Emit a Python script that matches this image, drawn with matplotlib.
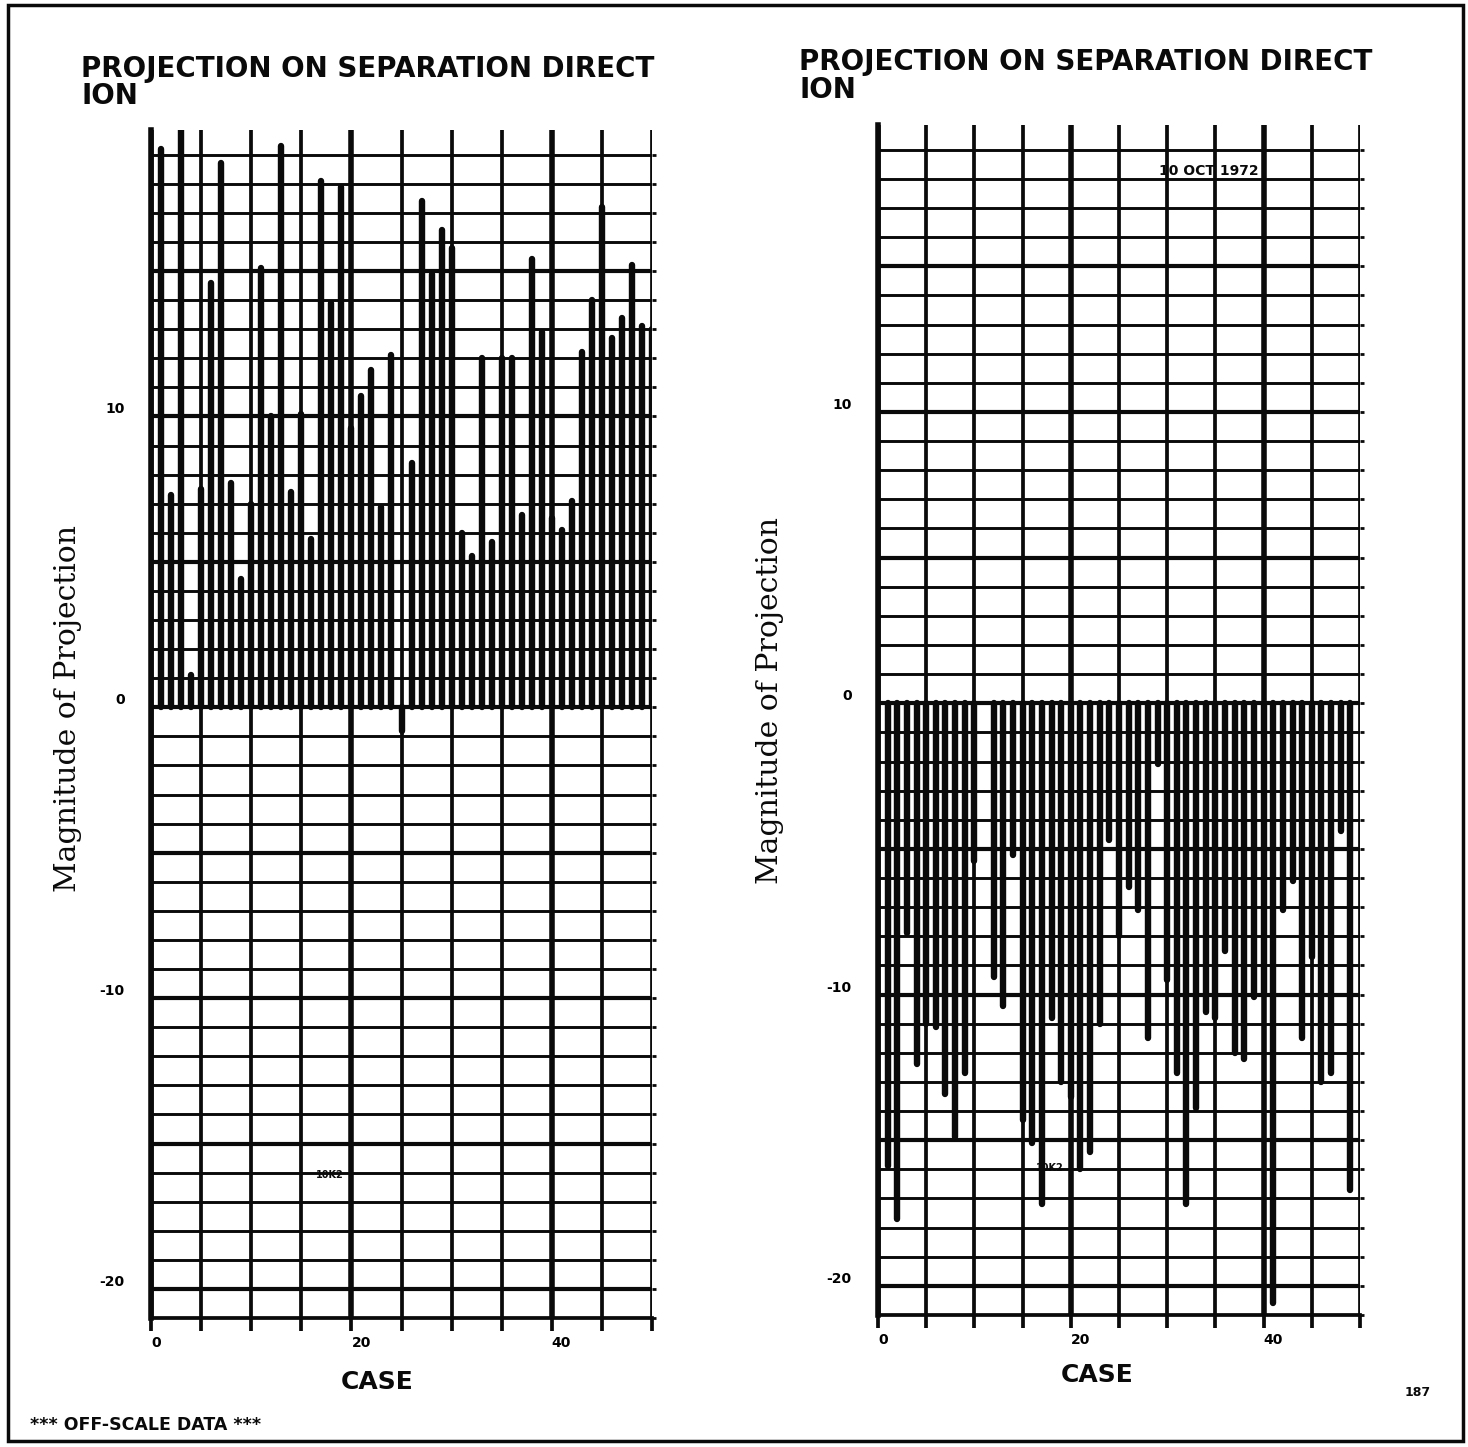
import matplotlib
matplotlib.use('Agg')
import matplotlib.pyplot as plt
from matplotlib.patches import Rectangle

# ---------------- data ----------------
cases_left = list(range(1, 51))
proj_left = [19.2, 7.3, 22.0, 1.1, 7.5, 14.6, 18.7, 7.7, 4.4, 7.0,
             15.1, 10.0, 19.3, 7.4, 10.1, 5.8, 18.1, 13.9, 17.9, 9.6,
             10.7, 11.6, 6.9, 12.1, -0.8, 8.4, 17.4, 14.9, 16.4, 15.8,
             6.0, 5.2, 12.0, 5.7, 12.0, 12.0, 6.6, 15.4, 12.9, 6.5,
             6.1, 7.1, 12.2, 14.0, 17.2, 12.7, 13.4, 15.2, 13.1, 13.0]

cases_right = list(range(1, 50))
proj_right = [-15.9, -17.7, -7.9, -12.4, -11.0, -11.1, -13.4, -14.9, -12.7, -5.4,
              0.0, -9.4, -10.4, -5.2, -14.3, -15.1, -17.2, -10.8, -13.0, -13.5,
              -16.0, -15.4, -11.0, -4.7, -8.0, -6.3, -7.1, -11.5, -2.1, -9.5,
              -12.7, -17.2, -13.9, -10.6, -10.8, -8.5, -12.0, -12.2, -10.1, -10.0,
              -20.6, -7.1, -6.1, -11.5, -8.7, -13.0, -12.7, -4.4, -16.7]

xtick_values = [0, 5, 10, 15, 20, 25, 30, 35, 40, 45, 50]
xtick_labels = ['0', '', '', '', '20', '', '', '', '40', '', '']
ytick_values = list(range(-21, 20))
ytick_named = {-20: '-20', -10: '-10', 0: '0', 10: '10'}

title_line1 = 'PROJECTION ON SEPARATION DIRECT'
title_line2 = 'ION'
ylabel_text = 'Magnitude of Projection'
xlabel_text = 'CASE'

W, H = 1468, 1447
DPI = 100
fig = plt.figure(figsize=(W / DPI, H / DPI), dpi=DPI)
fig.patch.set_facecolor('white')

INK = '#0a0a0a'


def fx(px):
    return px / W


def fy(py):
    return 1 - py / H


def draw_panel(rect, cases, values):
    ax = fig.add_axes(rect)
    ax.set_xlim(0, 50)
    ax.set_ylim(-21, 19.85)
    ax.set_facecolor('white')

    # grid
    ax.set_xticks(xtick_values)
    ax.set_xticklabels(xtick_labels)
    ax.set_yticks(ytick_values)
    ax.set_yticklabels([ytick_named.get(v, '') for v in ytick_values])
    ax.grid(True, axis='both', color=INK, linewidth=2.0, zorder=1)
    for v, gl in zip(ax.get_xticks(), ax.xaxis.get_gridlines()):
        gl.set_linewidth(4.0 if v in (0, 20, 40) else 2.7)
    for v, gl in zip(ax.get_yticks(), ax.yaxis.get_gridlines()):
        gl.set_linewidth(3.0 if int(round(v)) % 5 == 0 else 2.1)

    ax.tick_params(axis='x', direction='out', length=9, width=2.7,
                   color=INK, labelsize=10, pad=4)
    ax.tick_params(axis='y', left=False, right=True, direction='out',
                   length=3, width=2.0, color=INK, labelsize=10, pad=16)
    for lab in ax.get_xticklabels():
        lab.set_fontweight('bold')
        lab.set_ha('left')
    for lab in ax.get_yticklabels():
        lab.set_fontweight('bold')
        lab.set_va('bottom')

    for s in ('top', 'right'):
        ax.spines[s].set_visible(False)
    ax.spines['left'].set_linewidth(4.0)
    ax.spines['bottom'].set_linewidth(2.7)
    ax.spines['left'].set_color(INK)
    ax.spines['bottom'].set_color(INK)

    # bars (stems)
    lc = ax.vlines(cases, 0, values, colors=INK, linewidth=4.6, zorder=3)
    lc.set_capstyle('round')
    return ax


axL = draw_panel([fx(151), 1 - 1318 / H, fx(652) - fx(151), (1318 - 130) / H],
                 cases_left, proj_left)
axR = draw_panel([fx(878), 1 - 1315 / H, fx(1360) - fx(878), (1315 - 125) / H],
                 cases_right, proj_right)

# titles
title_kw = dict(fontsize=20, fontweight='heavy', family='DejaVu Sans', color=INK,
                ha='left', va='top')
fig.text(fx(81), fy(55), title_line1, **title_kw)
fig.text(fx(81), fy(82), title_line2, **title_kw)
fig.text(fx(799), fy(48), title_line1, **title_kw)
fig.text(fx(799), fy(76), title_line2, **title_kw)

# y labels
ylab_kw = dict(fontsize=21.5, family='DejaVu Serif', color=INK, rotation=90,
               ha='center', va='center')
fig.text(fx(68), fy(708), ylabel_text, **ylab_kw)
fig.text(fx(770), fy(700), ylabel_text, **ylab_kw)

# x labels
xlab_kw = dict(fontsize=18, fontweight='heavy', family='DejaVu Sans', color=INK,
               ha='center', va='center')
fig.text(fx(377), fy(1382), xlabel_text, **xlab_kw)
fig.text(fx(1097), fy(1375), xlabel_text, **xlab_kw)

# annotations
fig.text(fx(1209), fy(171), '10 OCT 1972', fontsize=10, fontweight='bold',
         color=INK, ha='center', va='center')
fig.text(fx(330), fy(1175), '10K2', fontsize=7, fontweight='bold',
         color=INK, ha='center', va='center')
fig.text(fx(1050), fy(1168), '10K2', fontsize=7, fontweight='bold',
         color=INK, ha='center', va='center')
fig.text(fx(30), fy(1425), '*** OFF-SCALE DATA ***', fontsize=12.5,
         fontweight='bold', color=INK, ha='left', va='center')
fig.text(fx(1418), fy(1392), '187', fontsize=9, fontweight='bold',
         color=INK, ha='center', va='center')

# outer frame
fig.add_artist(Rectangle((fx(8), fy(1441)), fx(1463) - fx(8), fy(5) - fy(1441),
                         transform=fig.transFigure, fill=False,
                         edgecolor=INK, linewidth=2.5))

fig.savefig('out.png', dpi=DPI, facecolor='white')
